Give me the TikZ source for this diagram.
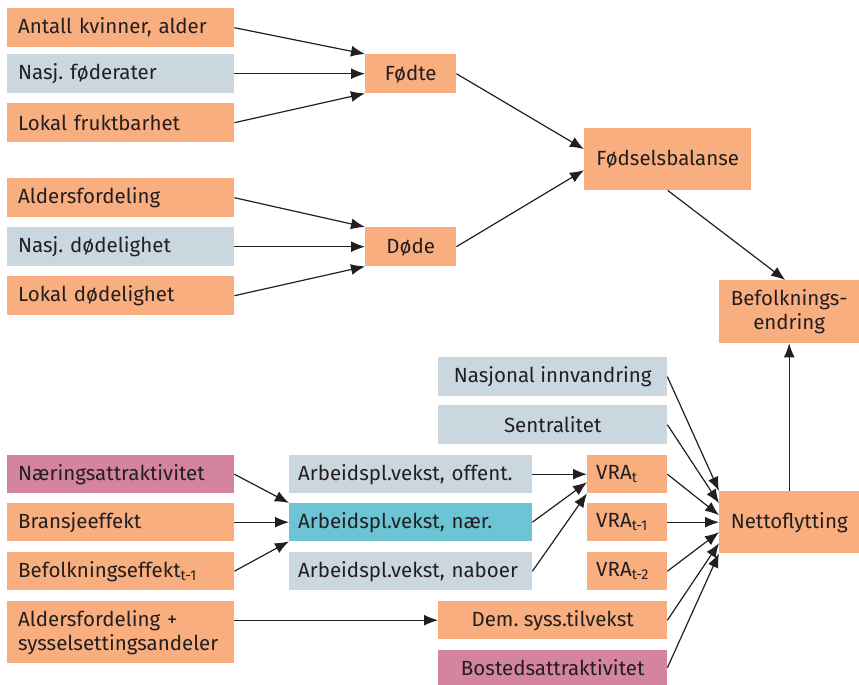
\documentclass[tikz,border=0pt]{standalone}
\usepackage{fontspec}
\setmainfont{Fira Sans}
\usepackage{tikz}
\usetikzlibrary{positioning,arrows.meta}
\frenchspacing

\definecolor{kOrange}{HTML}{F8AE7E}
\definecolor{kGraa}{HTML}{CBD7DF}
\definecolor{kTurkis}{HTML}{6DC4D4}
\definecolor{kRosa}{HTML}{D5849F}
\definecolor{kTekst}{HTML}{231F20}

\tikzset{
  boks/.style={rectangle, anchor=north west, inner ysep=0pt, inner xsep=11pt,
    minimum height=39pt, text=kTekst, font=\fontsize{20.5}{24}\selectfont},
  venstre/.style={boks, text width=#1, align=left},
  midt/.style={boks, minimum width=#1, align=center},
  oransje/.style={fill=kOrange},
  graa/.style={fill=kGraa},
  turkis/.style={fill=kTurkis},
  rosa/.style={fill=kRosa},
  pil/.style={-{Latex[length=14pt,width=11pt]}, line width=1.2pt, draw=kTekst},
}

\begin{document}
\begin{tikzpicture}[x=1pt,y=-1pt]
  \useasboundingbox (0,0) rectangle (859,685);

  % fodte og dode
  \node[venstre=205pt, oransje] (antall) at (7,8) {Antall kvinner, alder};
  \node[venstre=205pt, graa] (nfod) at (7,54) {Nasj. føderater};
  \node[venstre=205pt, oransje] (lokfrukt) at (7,103) {Lokal fruktbarhet};
  \node[midt=91pt, oransje] (fodte) at (365,54) {Fødte};
  \node[venstre=205pt, oransje] (alders) at (7,178) {Aldersfordeling};
  \node[venstre=205pt, graa] (ndod) at (7,227) {Nasj. dødelighet};
  \node[venstre=205pt, oransje] (lokdod) at (7,276) {Lokal dødelighet};
  \node[midt=91pt, oransje] (dode) at (365,227) {Døde};
  \node[midt=167pt, minimum height=62pt, oransje] (fodbal) at (584,128) {Fødselsbalanse};
  \node[midt=140pt, minimum height=63pt, oransje] (befend) at (719,280) {Befolknings-\\endring};

  % flytting
  \node[midt=229pt, graa] (nasinn) at (438,357) {Nasjonal innvandring};
  \node[midt=229pt, graa] (sentral) at (438,405) {Sentralitet};
  \node[venstre=205pt, minimum height=38pt, rosa] (naering) at (7,455) {Næringsattraktivitet};
  \node[venstre=205pt, minimum height=38pt, oransje] (bransje) at (7,503) {Bransjeeffekt};
  \node[venstre=205pt, minimum height=38pt, oransje] (befeff) at (7,552) {Befolkningseffekt\textsubscript{t-1}};
  \node[venstre=205pt, minimum height=62pt, oransje] (alderssys) at (7,601) {Aldersfordeling +\\sysselsettingsandeler};
  \node[venstre=225pt, inner xsep=9pt, minimum height=38pt, graa] (offent) at (289,455) {Arbeidspl.vekst, offent.};
  \node[venstre=225pt, inner xsep=9pt, minimum height=38pt, turkis] (naer) at (289,503) {Arbeidspl.vekst, nær.};
  \node[venstre=225pt, inner xsep=9pt, minimum height=38pt, graa] (naboer) at (289,552) {Arbeidspl.vekst, naboer};
  \node[venstre=62pt, inner xsep=9pt, minimum height=38pt, oransje] (vrat) at (587,455) {VRA\textsubscript{t}};
  \node[venstre=62pt, inner xsep=9pt, minimum height=38pt, oransje] (vrat1) at (587,503) {VRA\textsubscript{t-1}};
  \node[venstre=62pt, inner xsep=9pt, minimum height=38pt, oransje] (vrat2) at (587,552) {VRA\textsubscript{t-2}};
  \node[midt=140pt, minimum height=62pt, oransje] (netto) at (719,491) {Nettoflytting};
  \node[midt=229pt, minimum height=38pt, oransje] (dem) at (438,601) {Dem. syss.tilvekst};
  \node[midt=229pt, minimum height=35pt, rosa] (bosted) at (438,650) {Bostedsattraktivitet};

  % piler
  \draw[pil] (antall.east) -- (fodte.north west);
  \draw[pil] (nfod.east) -- (fodte.west);
  \draw[pil] (lokfrukt.east) -- (fodte.south west);
  \draw[pil] (alders.east) -- (dode.north west);
  \draw[pil] (ndod.east) -- (dode.west);
  \draw[pil] (lokdod.east) -- (dode.south west);
  \draw[pil] (fodte.east) -- ([yshift=10pt]fodbal.west);
  \draw[pil] (dode.east) -- ([yshift=-11pt]fodbal.west);
  \draw[pil] (fodbal.south) -- ([xshift=-4pt]befend.north);
  \draw[pil] (netto.north) -- (befend.south);

  \draw[pil] (naering.east) -- (naer.north west);
  \draw[pil] (bransje.east) -- (naer.west);
  \draw[pil] (befeff.east) -- (naer.south west);
  \draw[pil] (alderssys.east |- dem.west) -- (dem.west);
  \draw[pil] (offent.east) -- (vrat.west);
  \draw[pil] (naer.east) -- ([yshift=-8pt]vrat.west);
  \draw[pil] (naboer.east) -- (vrat.south west);

  \draw[pil] (nasinn.east) -- (netto.north west);
  \draw[pil] (sentral.east) -- ([yshift=19pt]netto.west);
  \draw[pil] (vrat.east) -- ([yshift=7pt]netto.west);
  \draw[pil] (vrat1.east) -- (netto.west);
  \draw[pil] (vrat2.east) -- ([yshift=-10pt]netto.west);
  \draw[pil] (dem.east) -- ([yshift=-21pt]netto.west);
  \draw[pil] (bosted.east) -- (netto.south west);
\end{tikzpicture}
\end{document}
